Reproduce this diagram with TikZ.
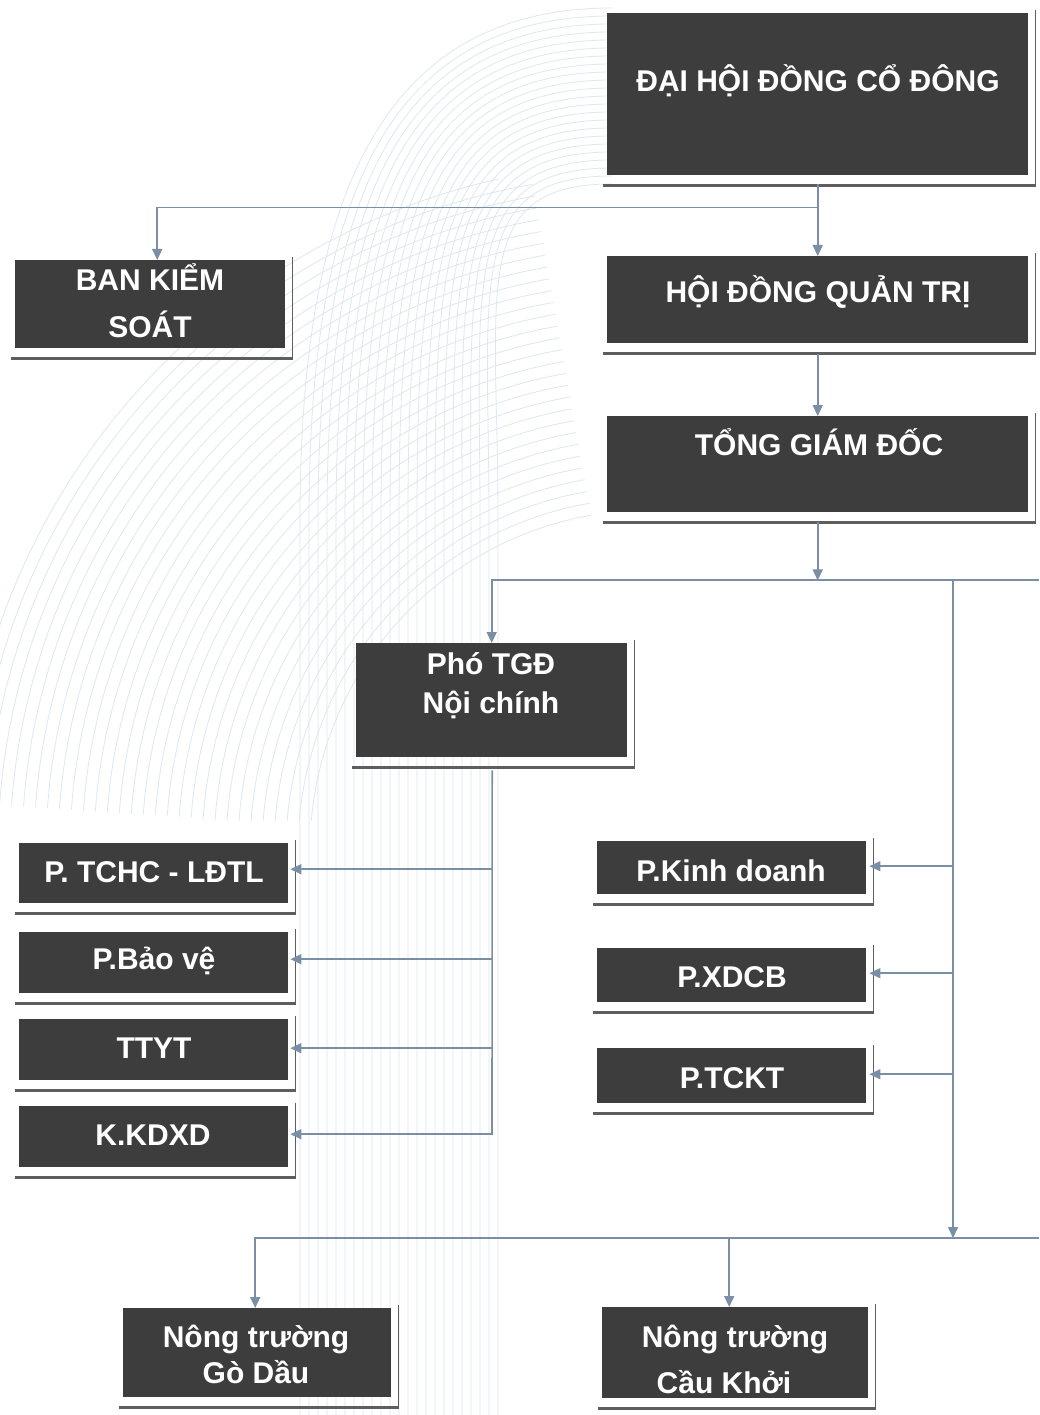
\documentclass[tikz,border=0pt]{standalone}
\usepackage{fontspec}
\setmainfont{Liberation Sans}
\usetikzlibrary{arrows.meta,calc}

\definecolor{boxfill}{HTML}{3D3D3D}
\definecolor{shadowc}{HTML}{5E5E5E}
\definecolor{connc}{HTML}{7A8FA6}
\definecolor{bgline}{HTML}{DFE7F0}

\tikzset{
  orgbox/.style={rectangle, fill=boxfill, draw=none, inner sep=0pt, anchor=north west},
  lbl/.style={text=white, font=\bfseries\fontsize{30}{36}\selectfont, inner sep=0pt, anchor=base},
  conn/.style={draw=connc, line width=1.6pt},
  arr/.style={conn, -{Triangle[length=11pt,width=10pt]}},
  shdr/.style={draw=shadowc, line width=1.6pt},
  shdb/.style={draw=shadowc, line width=3pt},
  bg/.style={draw=bgline, line width=0.8pt}
}

\newcommand\mkshadow[1]{%
  \draw[shdr] ($(#1.north east)+(7,-3)$) -- ($(#1.south east)+(7,10)$);
  \draw[shdb] ($(#1.south west)+(-4,10)$) -- ($(#1.south east)+(7.8,10)$);
}

\begin{document}
\begin{tikzpicture}[x=1pt,y=-1pt]
\useasboundingbox (0,0) rectangle (1039,1415);
\fill[white] (0,0) rectangle (1039,1415);

% faint decorative background lines
\begin{scope}
\clip (0,0) rectangle (1039,1415);
\foreach \i in {0,...,22} {
  \draw[bg] (612,8+8*\i) .. controls (380+4*\i,8+8*\i) and (300+9*\i,200+4*\i) .. (300+9*\i,520) -- (300+9*\i,1415);
}
\begin{scope}
\clip (0,180) rectangle (600,820);
\foreach \r in {340,352,...,690} {
  \draw[bg] plot[domain=100:176, samples=40, smooth] ({650+\r*cos(\x)},{850-\r*sin(\x)});
}
\end{scope}
\end{scope}

% boxes
\node[orgbox, minimum width=421pt, minimum height=162pt] (dhdcd) at (607,13) {};
\node[orgbox, minimum width=270pt, minimum height=88pt]  (bks)   at (15,260) {};
\node[orgbox, minimum width=421pt, minimum height=87pt]  (hdqt)  at (607,256) {};
\node[orgbox, minimum width=421pt, minimum height=96pt]  (tgd)   at (607,416) {};
\node[orgbox, minimum width=271pt, minimum height=114pt] (pho)   at (356,643) {};
\node[orgbox, minimum width=269pt, minimum height=60pt]  (tchc)  at (19,843) {};
\node[orgbox, minimum width=269pt, minimum height=61pt]  (baove) at (19,932) {};
\node[orgbox, minimum width=269pt, minimum height=61pt]  (ttyt)  at (19,1019) {};
\node[orgbox, minimum width=269pt, minimum height=61pt]  (kkdxd) at (19,1106) {};
\node[orgbox, minimum width=269pt, minimum height=53pt]  (kd)    at (597,841) {};
\node[orgbox, minimum width=269pt, minimum height=54pt]  (xdcb)  at (597,948) {};
\node[orgbox, minimum width=269pt, minimum height=55pt]  (tckt)  at (597,1048) {};
\node[orgbox, minimum width=268pt, minimum height=89pt]  (godau) at (123,1308) {};
\node[orgbox, minimum width=266pt, minimum height=91pt]  (caukhoi) at (602,1307) {};

\foreach \b in {dhdcd,bks,hdqt,tgd,pho,tchc,baove,ttyt,kkdxd,kd,xdcb,tckt,godau,caukhoi} {\mkshadow{\b}}

% texts
\node[lbl] (t-dhdcd) at (818,92)  {ĐẠI HỘI ĐỒNG CỔ ĐÔNG};
\node[lbl] (t-bks1)  at (150,290) {BAN KIỂM};
\node[lbl] (t-bks2)  at (150,337) {SOÁT};
\node[lbl] (t-hdqt)  at (818,302) {HỘI ĐỒNG QUẢN TRỊ};
\node[lbl] (t-tgd)   at (819,455) {TỔNG GIÁM ĐỐC};
\node[lbl] (t-pho1)  at (491,674) {Phó TGĐ};
\node[lbl] (t-pho2)  at (491,713) {Nội chính};
\node[lbl] (t-tchc)  at (154,882) {P. TCHC - LĐTL};
\node[lbl] (t-baove) at (154,969) {P.Bảo vệ};
\node[lbl] (t-ttyt)  at (154,1058) {TTYT};
\node[lbl] (t-kkdxd) at (153,1145) {K.KDXD};
\node[lbl] (t-kd)    at (731,881) {P.Kinh doanh};
\node[lbl] (t-xdcb)  at (732,987) {P.XDCB};
\node[lbl] (t-tckt)  at (732,1088) {P.TCKT};
\node[lbl] (t-gd1)   at (256,1347) {Nông trường};
\node[lbl] (t-gd2)   at (256,1383) {Gò Dầu};
\node[lbl] (t-ck1)   at (735,1347) {Nông trường};
\node[lbl] (t-ck2)   at (724,1393) {Cầu Khởi};

% connectors
\coordinate (j1) at ($(dhdcd.south)+(0,32)$);
\draw[arr] ($(dhdcd.south)+(0,9)$) -- (hdqt.north);
\draw[arr] (j1) -| ($(bks.north)+(7,0)$);
\draw[arr] ($(hdqt.south)+(0,11)$) -- (tgd.north);
\coordinate (j2) at ($(tgd.south)+(0,68)$);
\draw[arr] ($(tgd.south)+(0,10)$) -- (j2);
\coordinate (r1) at (1039,580);
\draw[arr] (r1) -| (pho.north);
\coordinate (j3) at (953,580);
\coordinate (j4) at (953,1238);
\draw[arr] (j3) -- (j4);
\coordinate (r2) at (1039,1238);
\draw[arr] (r2) -| ($(godau.north)+(-2,0)$);
\coordinate (c1) at ($(caukhoi.north)+(-6,0)$);
\draw[arr] (c1 |- r2) -- (c1);

% Pho TGD branch
\coordinate (j5) at (492,1135);
\draw[conn] ($(pho.south)+(0.5,13)$) -- (j5);
\coordinate (a1) at ($(tchc.east)+(2,-4)$);
\coordinate (a2) at ($(baove.east)+(2,-3.5)$);
\coordinate (a3) at ($(ttyt.east)+(2,-1.5)$);
\coordinate (a4) at ($(kkdxd.east)+(2,-2.5)$);
\foreach \a in {a1,a2,a3,a4} {\draw[arr] (j5 |- \a) -- (\a);}

% right branch
\coordinate (b1) at ($(kd.east)+(3,-1.5)$);
\coordinate (b2) at ($(xdcb.east)+(3,-2)$);
\coordinate (b3) at ($(tckt.east)+(3,-1.5)$);
\foreach \b in {b1,b2,b3} {\draw[arr] (j3 |- \b) -- (\b);}
\end{tikzpicture}
\end{document}
